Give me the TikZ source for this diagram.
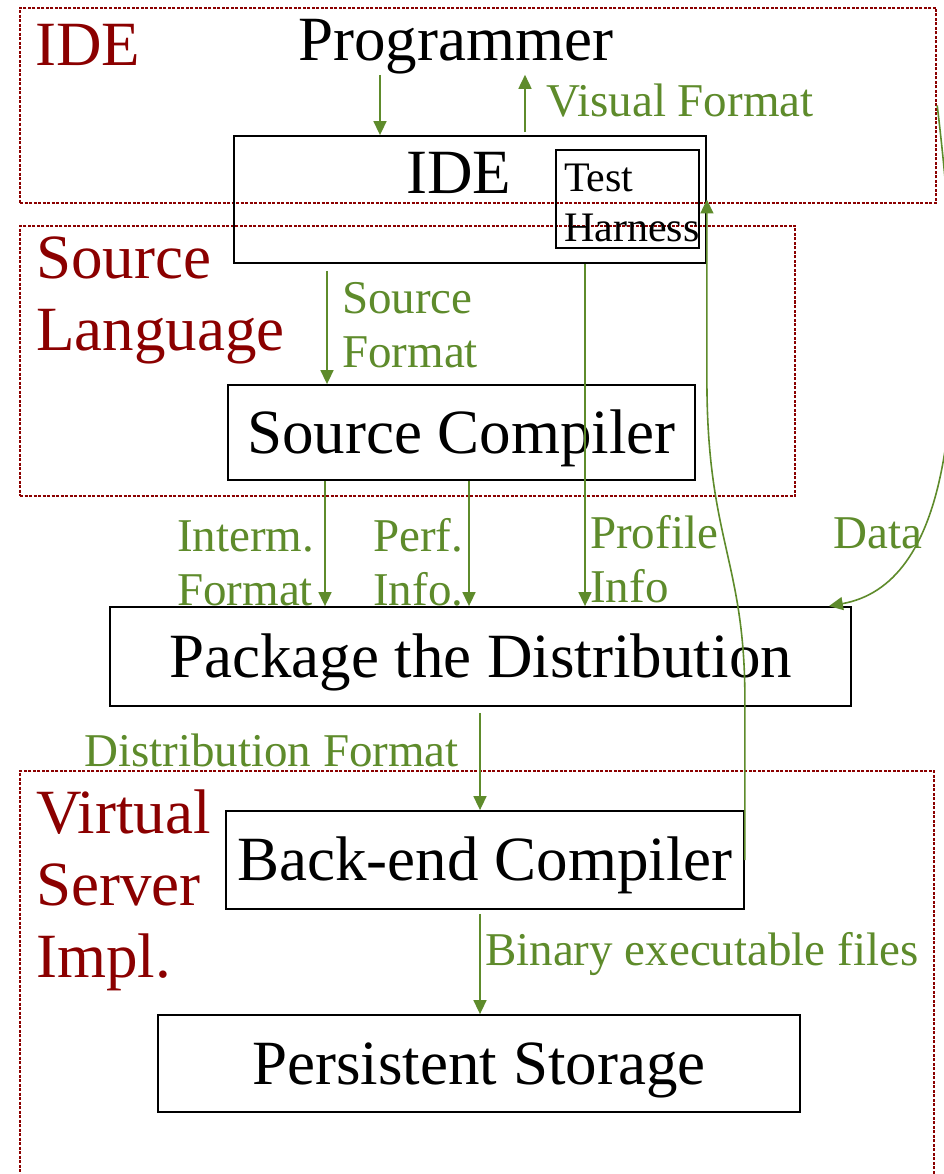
\documentclass[tikz,border=0pt]{standalone}
\usepackage{fontspec}
\setmainfont{Liberation Serif}
\usetikzlibrary{arrows.meta}
\definecolor{flowgreen}{RGB}{94,139,43}
\definecolor{grpred}{RGB}{139,0,0}
\newcommand{\figbig}{\fontsize{63}{72}\selectfont}
\newcommand{\figlbl}{\fontsize{47}{54}\selectfont}
\newcommand{\figsmall}{\fontsize{42}{50}\selectfont}
\begin{document}
\begin{tikzpicture}[x=1pt,y=-1pt,
  grp/.style={draw=grpred, line width=2.4pt, dash pattern=on 3pt off 1.5pt, inner sep=0pt},
  grplabel/.style={text=grpred, font=\figbig, align=left, anchor=base west, inner sep=0pt},
  box/.style={draw=black, line width=1.8pt, inner sep=0pt, font=\figbig, text height=44pt, text depth=3pt},
  plain/.style={font=\figbig, anchor=base west, inner sep=0pt},
  flow/.style={draw=flowgreen, line width=1.6pt, -{Triangle[length=14pt,width=13pt]}},
  flowlabel/.style={text=flowgreen, font=\figlbl, align=left, anchor=base west, inner sep=0pt}]
\useasboundingbox (0,0) rectangle (944,1174);
\fill[white] (0,0) rectangle (944,1174);

% layer groups (multi-line labels are placed by the baseline of their last line)
\node[grp, minimum width=916pt, minimum height=195pt] (idegrp) at (478,105.5) {};
\node[grp, minimum width=775pt, minimum height=270pt] (srcgrp) at (407.5,361) {};
\node[grp, minimum width=914pt, minimum height=429pt] (vsgrp) at (477,985.5) {};
\node[grplabel] (idegrplbl) at (35,66) {IDE};
\node[grplabel] (srcgrplbl) at (36,350) {Source\\Language};
\node[grplabel] (vsgrplbl) at (36,977) {Virtual\\Server\\Impl.};

% components
\node[plain] (programmer) at (298,61) {Programmer};
\node[box, minimum width=472pt, minimum height=127pt] (ide) at (470,199.5) {};
\node[plain] (idetext) at (406,194) {IDE};
\node[box, minimum width=143pt, minimum height=98pt] (harness) at (627.5,199) {};
\node[plain, font=\figsmall, align=left] (harnesstext) at (564,241) {Test\\Harness};
\node[box, minimum width=467pt, minimum height=95pt] (srccomp) at (461.5,432.5) {Source Compiler};
\node[box, minimum width=741pt, minimum height=99pt] (package) at (480.5,656.5) {Package the Distribution};
\node[box, minimum width=518pt, minimum height=98pt] (backend) at (485,860) {Back-end Compiler};
\node[box, minimum width=642pt, minimum height=97pt] (storage) at (479,1063.5) {Persistent Storage};

% data flows
\draw[flow] (programmer.south -| 380,0) -- (ide.north -| 380,0);
\draw[flow] ([yshift=3pt]ide.north -| 525,0) -- (programmer.south -| 525,0);
\node[flowlabel] (visual) at (546,117) {Visual Format};

\draw[flow] ([yshift=-7pt]ide.south -| 327,0) -- (srccomp.north -| 327,0);
\node[flowlabel] (srcfmt) at (342,367) {Source\\Format};

\draw[flow] (srccomp.south -| 325,0) -- (package.north -| 325,0);
\node[flowlabel] (interm) at (177,605) {Interm.\\Format};

\draw[flow] (srccomp.south -| 469,0) -- (package.north -| 469,0);
\node[flowlabel] (perf) at (373,605) {Perf.\\Info.};

\draw[flow] (ide.south -| 585,0) -- (package.north -| 585,0);
\node[flowlabel] (profile) at (590,602) {Profile\\Info};

\draw[flow] (idegrp.east) .. controls (975,420) and (945,585) .. ([xshift=-23pt]package.north east);
\node[flowlabel] (data) at (833,548) {Data};

\draw[flow] ([yshift=-6pt]package.south -| 480,0) -- (backend.north -| 480,0);
\node[flowlabel] (distfmt) at (84,766) {Distribution Format};

\draw[flow] ([yshift=-4pt]backend.south -| 480,0) -- (storage.north -| 480,0);
\node[flowlabel] (binary) at (485,965) {Binary executable files};

\draw[flow] (backend.east) -- (backend.east |- 0,700)
  .. controls (backend.east |- 0,560) and (ide.east |- 0,540) .. (ide.east |- 0,380)
  -- (ide.east);
\end{tikzpicture}
\end{document}
